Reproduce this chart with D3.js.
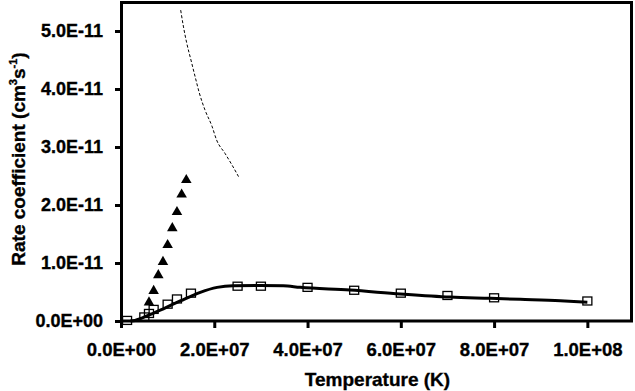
<!DOCTYPE html>
<html><head><meta charset="utf-8">
<script src="https://cdn.jsdelivr.net/npm/d3@7"></script>
<style>
body{margin:0;background:#fff;}
svg{display:block;font-family:"Liberation Sans",Arial,sans-serif;font-weight:bold;}
text{stroke:#000;stroke-width:0.35px;}
</style></head>
<body><svg id="c" width="635" height="391"></svg>
<script>
// ---- data ----
const xTicks = [0, 2e7, 4e7, 6e7, 8e7, 1e8];
const xTickLabels = ["0.0E+00","2.0E+07","4.0E+07","6.0E+07","8.0E+07","1.0E+08"];
const yTicks = [0, 1e-11, 2e-11, 3e-11, 4e-11, 5e-11];
const yTickLabels = ["0.0E+00","1.0E-11","2.0E-11","3.0E-11","4.0E-11","5.0E-11"];

// triangles
const triT = [6e6, 7e6, 8e6, 9e6, 1e7, 1.1e7, 1.2e7, 1.3e7, 1.4e7];
const triK = [3.2e-12, 5.2e-12, 7.9e-12, 1.02e-11, 1.31e-11, 1.60e-11, 1.88e-11, 2.18e-11, 2.43e-11];

// open squares
const sqT = [1.3e6, 5e6, 6e6, 7e6, 1e7, 1.2e7, 1.5e7, 2.5e7, 3e7, 4e7, 5e7, 6e7, 7e7, 8e7, 1e8];
const sqK = [0.01e-11, 0.07e-11, 0.13e-11, 0.20e-11, 0.29e-11, 0.38e-11, 0.48e-11, 0.60e-11, 0.60e-11, 0.58e-11, 0.53e-11, 0.48e-11, 0.44e-11, 0.40e-11, 0.345e-11];

// solid fitted curve
const fitT = [2e6, 3e6, 6.2e6, 9.4e6, 1.27e7, 1.7e7, 2.06e7, 2.4e7, 2.98e7, 3.48e7, 3.84e7, 4.91e7, 5.99e7, 7.06e7, 7.92e7, 8.56e7, 9.42e7, 1e8];
const fitK = [0, 0.01e-11, 0.11e-11, 0.224e-11, 0.345e-11, 0.495e-11, 0.58e-11, 0.609e-11, 0.612e-11, 0.607e-11, 0.58e-11, 0.534e-11, 0.466e-11, 0.412e-11, 0.391e-11, 0.374e-11, 0.35e-11, 0.325e-11];

// dashed curve
const dashT = [1.28e7, 1.34e7, 1.41e7, 1.50e7, 1.59e7, 1.68e7, 1.80e7, 1.95e7, 2.05e7, 2.23e7, 2.38e7, 2.52e7];
const dashK = [5.36e-11, 5.07e-11, 4.79e-11, 4.50e-11, 4.21e-11, 3.93e-11, 3.64e-11, 3.36e-11, 3.12e-11, 2.89e-11, 2.69e-11, 2.49e-11];

const xLabel = "Temperature (K)";

// ---- chart ----
const svg = d3.select("#c");
const x = d3.scaleLinear().domain([0, 1.1e8]).range([121, 634]);
const y = d3.scaleLinear().domain([0, 5.5e-11]).range([321, 2]);

// frame
svg.append("rect")
  .attr("x", x(0)+0.5).attr("y", y(5.5e-11)+0.5)
  .attr("width", x(1.1e8)-x(0)-3).attr("height", y(0)-y(5.5e-11)-0.5)
  .attr("fill","none").attr("stroke","#000").attr("stroke-width",3);

// axes
const xAxis = d3.axisBottom(x).tickValues(xTicks)
  .tickFormat((d,i)=>xTickLabels[i]).tickSize(7).tickPadding(15);
const gx = svg.append("g").attr("transform",`translate(0,${y(0)})`).call(xAxis);
gx.select(".domain").remove();
gx.selectAll(".tick line").attr("stroke","#000").attr("stroke-width",3);
gx.selectAll(".tick text").attr("font-size",18.5).attr("font-weight","bold")
  .attr("font-family","Liberation Sans, Arial, sans-serif").attr("fill","#000");

const yAxis = d3.axisLeft(y).tickValues(yTicks)
  .tickFormat((d,i)=>yTickLabels[i]).tickSize(6).tickPadding(12);
const gy = svg.append("g").attr("transform",`translate(${x(0)},0)`).call(yAxis);
gy.select(".domain").remove();
gy.selectAll(".tick line").attr("stroke","#000").attr("stroke-width",3);
gy.selectAll(".tick text").attr("font-size",18).attr("font-weight","bold")
  .attr("font-family","Liberation Sans, Arial, sans-serif").attr("fill","#000");

// dashed curve
const dashData = dashT.map((t,i)=>[t,dashK[i]]);
svg.append("path").datum(dashData)
  .attr("d", d3.line().x(d=>x(d[0])).y(d=>y(d[1])).curve(d3.curveMonotoneX))
  .attr("fill","none").attr("stroke","#000").attr("stroke-width",1)
  .attr("stroke-dasharray","3,2");

// squares
const sqData = sqT.map((t,i)=>[t,sqK[i]]);
svg.append("g").selectAll("rect").data(sqData).join("rect")
  .attr("x", d=>x(d[0])-4.5).attr("y", d=>y(d[1])-4)
  .attr("width",9).attr("height",8)
  .attr("fill","none").attr("stroke","#000").attr("stroke-width",1.3);

// fitted curve
const fitData = fitT.map((t,i)=>[t,fitK[i]]);
svg.append("path").datum(fitData)
  .attr("d", d3.line().x(d=>x(d[0])).y(d=>y(d[1])).curve(d3.curveMonotoneX))
  .attr("fill","none").attr("stroke","#000").attr("stroke-width",3);

// triangles
const triData = triT.map((t,i)=>[t,triK[i]]);
svg.append("g").selectAll("path").data(triData).join("path")
  .attr("d", d3.symbol().type(d3.symbolTriangle).size(48))
  .attr("transform", d=>`translate(${x(d[0])},${y(d[1])})`)
  .attr("fill","#000");

// axis titles
svg.append("text").attr("x",(x(0)+x(1.1e8))/2).attr("y",386)
  .attr("text-anchor","middle").attr("font-size",19).text(xLabel);

const yl = svg.append("text")
  .attr("transform","translate(25,159) rotate(-90)")
  .attr("text-anchor","middle").attr("font-size",19);
yl.append("tspan").text("Rate coefficient (cm");
yl.append("tspan").attr("font-size",11).attr("dy",-8).text("3");
yl.append("tspan").attr("dy",8).text("s");
yl.append("tspan").attr("font-size",11).attr("dy",-8).text("-1");
yl.append("tspan").attr("dy",8).text(")");
</script></body></html>
